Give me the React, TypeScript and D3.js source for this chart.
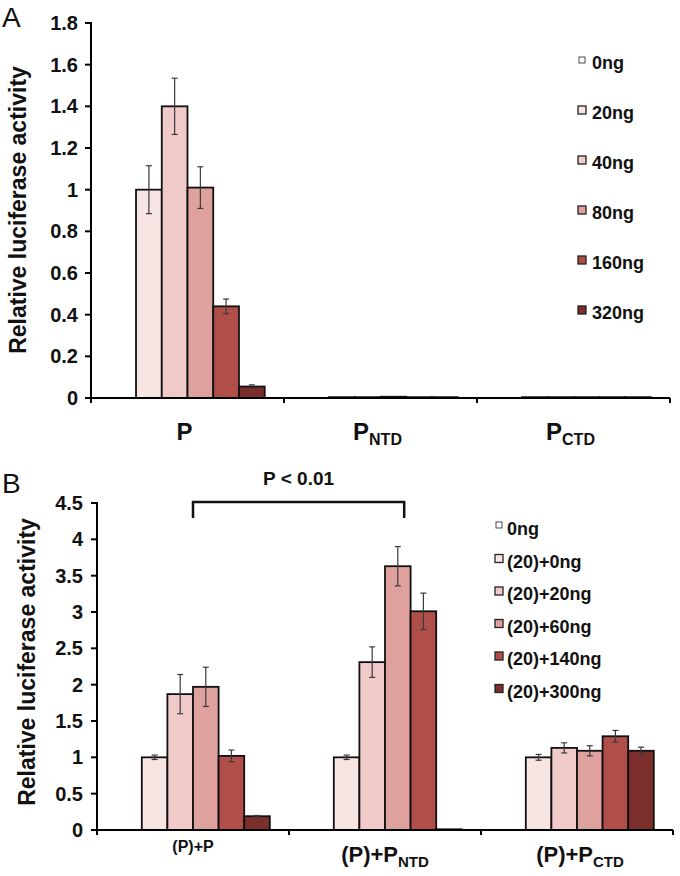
import React from "react";
import * as d3 from "d3";

// ---------- Panel A data ----------
const categoriesA = ["P", "P|NTD", "P|CTD"];
const seriesA = ["0ng", "20ng", "40ng", "80ng", "160ng", "320ng"];
const valuesA = [
  [0, 0, 0],
  [1.0, 0.004, 0.004],
  [1.4, 0.004, 0.004],
  [1.01, 0.006, 0.004],
  [0.44, 0.004, 0.004],
  [0.055, 0.004, 0.004],
];
const errorsA = [
  [0, 0, 0],
  [0.115, 0, 0],
  [0.135, 0, 0],
  [0.1, 0, 0],
  [0.035, 0, 0],
  [0.008, 0, 0],
];
const ticksA = [0, 0.2, 0.4, 0.6, 0.8, 1, 1.2, 1.4, 1.6, 1.8];

// ---------- Panel B data ----------
const categoriesB = ["(P)+P", "(P)+P|NTD", "(P)+P|CTD"];
const seriesB = ["0ng", "(20)+0ng", "(20)+20ng", "(20)+60ng", "(20)+140ng", "(20)+300ng"];
const valuesB = [
  [0, 0, 0],
  [1.0, 1.0, 1.0],
  [1.87, 2.31, 1.13],
  [1.97, 3.63, 1.09],
  [1.02, 3.01, 1.29],
  [0.19, 0.01, 1.09],
];
const errorsB = [
  [0, 0, 0],
  [0.03, 0.03, 0.04],
  [0.27, 0.21, 0.07],
  [0.27, 0.27, 0.07],
  [0.08, 0.25, 0.08],
  [0.01, 0, 0.05],
];
const ticksB = [0, 0.5, 1, 1.5, 2, 2.5, 3, 3.5, 4, 4.5];

const colors = ["#ffffff", "#f6e5e3", "#efcac8", "#dea19e", "#b04f49", "#7b2e2b"];

const FONT = "'Liberation Sans', Arial, Helvetica, sans-serif";

type PanelProps = {
  categories: string[];
  series: string[];
  values: number[][];
  errors: number[][];
  ticks: number[];
  yMax: number;
  x0: number;
  x1: number;
  yTop: number;
  yBottom: number;
};

function Bars(p: PanelProps) {
  const x = d3.scaleBand<string>().domain(p.categories).range([p.x0, p.x1]);
  const bw = x.bandwidth();
  const groupW = bw * 0.8;
  const sub = d3.scaleBand<string>().domain(p.series).range([(bw - groupW) / 2, (bw + groupW) / 2]);
  const y = d3.scaleLinear().domain([0, p.yMax]).range([p.yBottom, p.yTop]);
  const elems: React.ReactNode[] = [];
  p.series.forEach((s, si) => {
    p.categories.forEach((c, ci) => {
      const v = p.values[si][ci];
      if (v <= 0) return;
      const bx = (x(c) as number) + (sub(s) as number);
      const yy = y(v);
      elems.push(
        <rect
          key={`b-${si}-${ci}`}
          x={bx}
          y={yy}
          width={sub.bandwidth()}
          height={p.yBottom - yy}
          fill={colors[si]}
          stroke="#111"
          strokeWidth={1.8}
        />
      );
    });
  });
  p.series.forEach((s, si) => {
    p.categories.forEach((c, ci) => {
      const v = p.values[si][ci];
      const e = p.errors[si][ci];
      if (v <= 0 || e <= 0) return;
      const cx = (x(c) as number) + (sub(s) as number) + sub.bandwidth() / 2;
      const yt = y(v + e);
      const yb = y(v - e);
      elems.push(
        <g key={`e-${si}-${ci}`} stroke="#3a3a3a" strokeWidth={1.2}>
          <line x1={cx} x2={cx} y1={yt} y2={yb} />
          <line x1={cx - 3} x2={cx + 3} y1={yt} y2={yt} />
          <line x1={cx - 3} x2={cx + 3} y1={yb} y2={yb} />
        </g>
      );
    });
  });
  elems.push(
    <line key="yaxis" x1={p.x0} x2={p.x0} y1={p.yTop - 1} y2={p.yBottom} stroke="#000" strokeWidth={2} />
  );
  elems.push(
    <line key="xaxis" x1={p.x0} x2={p.x1} y1={p.yBottom} y2={p.yBottom} stroke="#000" strokeWidth={2} />
  );
  p.ticks.forEach((t, i) => {
    elems.push(
      <line key={`yt-${i}`} x1={p.x0 - 6} x2={p.x0} y1={y(t)} y2={y(t)} stroke="#000" strokeWidth={2} />
    );
  });
  const xt = [p.x0, ...p.categories.map((c) => (x(c) as number) + bw)];
  xt.forEach((t, i) => {
    elems.push(
      <line key={`xt-${i}`} x1={t} x2={t} y1={p.yBottom} y2={p.yBottom + 5} stroke="#000" strokeWidth={2} />
    );
  });
  return <g>{elems}</g>;
}

function TickLabels(props: { ticks: number[]; yMax: number; yTop: number; yBottom: number; xRight: number }) {
  const y = d3.scaleLinear().domain([0, props.yMax]).range([props.yBottom, props.yTop]);
  return (
    <g fontFamily={FONT} fontWeight="bold" fontSize={20} textAnchor="end" fill="#111">
      {props.ticks.map((t, i) => (
        <text key={i} x={props.xRight} y={y(t) + 7}>
          {String(t)}
        </text>
      ))}
    </g>
  );
}

function CatLabel(props: { label: string; x: number; y: number; size: number; subSize: number }) {
  const [main, subs] = props.label.split("|");
  return (
    <text x={props.x} y={props.y} textAnchor="middle" fontFamily={FONT} fontWeight="bold" fontSize={props.size} fill="#111">
      {main}
      {subs ? (
        <tspan fontSize={props.subSize} dy={5}>
          {subs}
        </tspan>
      ) : null}
    </text>
  );
}

export default function App() {
  const A = { x0: 91, x1: 670, yTop: 23, yBottom: 398, yMax: 1.8 };
  const B = { x0: 97, x1: 673, yTop: 503, yBottom: 830, yMax: 4.5 };
  const xA = d3.scaleBand<string>().domain(categoriesA).range([A.x0, A.x1]);
  const xB = d3.scaleBand<string>().domain(categoriesB).range([B.x0, B.x1]);
  const subB = d3
    .scaleBand<string>()
    .domain(seriesB)
    .range([xB.bandwidth() * 0.1, xB.bandwidth() * 0.9]);
  const yB = d3.scaleLinear().domain([0, B.yMax]).range([B.yBottom, B.yTop]);
  const bx1 = (xB(categoriesB[0]) as number) + (subB(seriesB[3]) as number);
  const bx2 = (xB(categoriesB[1]) as number) + (subB(seriesB[3]) as number) + subB.bandwidth() * 0.75;
  const bracketY = yB(4.5) - 1;

  return (
    <svg
      width={680}
      height={876}
      style={{ position: "absolute", left: 0, top: 0, background: "#fff" }}
      xmlns="http://www.w3.org/2000/svg"
    >
      <rect x={0} y={0} width={680} height={876} fill="#fff" />
      <text x={2} y={27} fontFamily={FONT} fontSize={28} fill="#111">A</text>
      <text x={2} y={493} fontFamily={FONT} fontSize={28} fill="#111">B</text>

      {/* Panel A */}
      <Bars
        categories={categoriesA}
        series={seriesA}
        values={valuesA}
        errors={errorsA}
        ticks={ticksA}
        yMax={A.yMax}
        x0={A.x0}
        x1={A.x1}
        yTop={A.yTop}
        yBottom={A.yBottom}
      />
      <TickLabels ticks={ticksA} yMax={A.yMax} yTop={A.yTop} yBottom={A.yBottom} xRight={78} />
      <text
        transform={`translate(26,210) rotate(-90)`}
        textAnchor="middle"
        fontFamily={FONT}
        fontWeight="bold"
        fontSize={23}
        fill="#111"
      >
        Relative luciferase activity
      </text>
      {categoriesA.map((c) => (
        <CatLabel key={c} label={c} x={(xA(c) as number) + xA.bandwidth() / 2 - 3} y={440} size={24} subSize={16} />
      ))}
      {/* Legend A */}
      <g fontFamily={FONT} fontWeight="bold" fontSize={18} fill="#111">
        {seriesA.map((s, i) => {
          const base = 69 + i * 50;
          const small = i === 0;
          return (
            <g key={s}>
              <rect
                x={small ? 579 : 578}
                y={base - (small ? 12 : 13)}
                width={small ? 6 : 8}
                height={small ? 6 : 8}
                fill={colors[i]}
                stroke="#222"
                strokeWidth={small ? 0.8 : 1.3}
              />
              <text x={592} y={base}>{s}</text>
            </g>
          );
        })}
      </g>

      {/* Panel B */}
      <Bars
        categories={categoriesB}
        series={seriesB}
        values={valuesB}
        errors={errorsB}
        ticks={ticksB}
        yMax={B.yMax}
        x0={B.x0}
        x1={B.x1}
        yTop={B.yTop}
        yBottom={B.yBottom}
      />
      <TickLabels ticks={ticksB} yMax={B.yMax} yTop={B.yTop} yBottom={B.yBottom} xRight={83} />
      <text
        transform={`translate(35,662) rotate(-90)`}
        textAnchor="middle"
        fontFamily={FONT}
        fontWeight="bold"
        fontSize={23}
        fill="#111"
      >
        Relative luciferase activity
      </text>
      <CatLabel label={categoriesB[0]} x={(xB(categoriesB[0]) as number) + xB.bandwidth() / 2} y={852} size={16} subSize={12} />
      <CatLabel label={categoriesB[1]} x={(xB(categoriesB[1]) as number) + xB.bandwidth() / 2} y={862} size={22} subSize={15} />
      <CatLabel label={categoriesB[2]} x={(xB(categoriesB[2]) as number) + xB.bandwidth() / 2 + 3} y={862} size={22} subSize={15} />

      {/* significance bracket */}
      <path
        d={`M${bx1},${bracketY + 16} V${bracketY} H${bx2} V${bracketY + 16}`}
        fill="none"
        stroke="#111"
        strokeWidth={2.5}
      />
      <text x={(bx1 + bx2) / 2} y={485} textAnchor="middle" fontFamily={FONT} fontWeight="bold" fontSize={19} fill="#111">
        P &lt; 0.01
      </text>

      {/* Legend B */}
      <g fontFamily={FONT} fontWeight="bold" fontSize={18} fill="#111">
        {seriesB.map((s, i) => {
          const base = 535 + i * 32.5;
          const small = i === 0;
          return (
            <g key={s}>
              <rect
                x={small ? 496 : 495}
                y={base - 13}
                width={small ? 6 : 8}
                height={small ? 6 : 8}
                fill={colors[i]}
                stroke="#222"
                strokeWidth={small ? 0.8 : 1.3}
              />
              <text x={507} y={base}>{s}</text>
            </g>
          );
        })}
      </g>
    </svg>
  );
}
